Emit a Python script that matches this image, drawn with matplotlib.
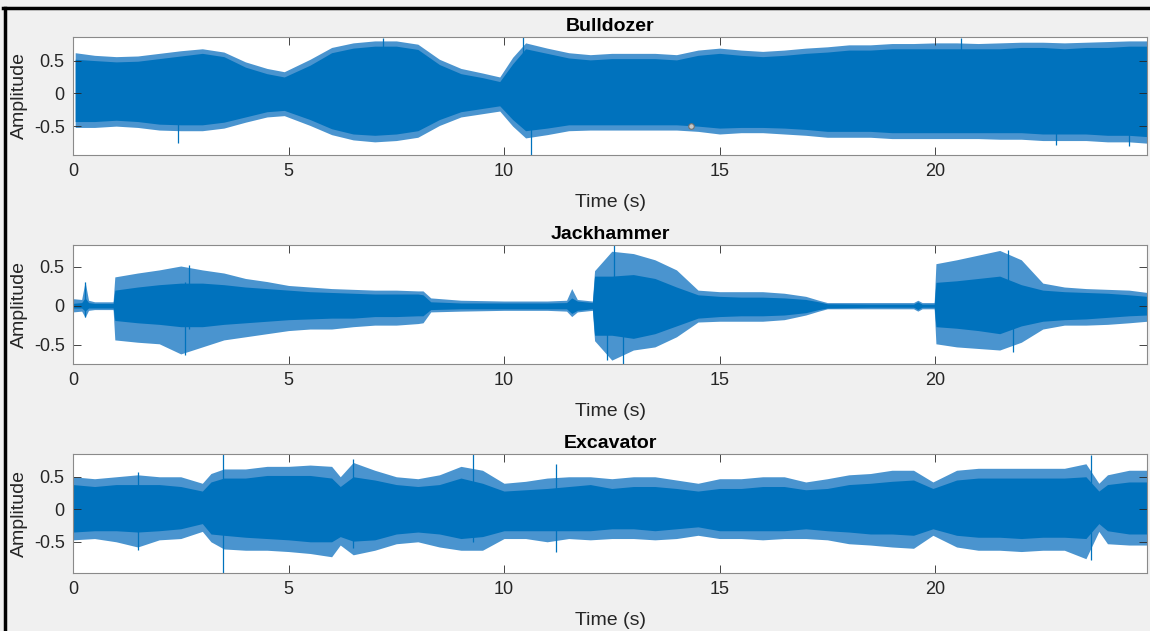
import matplotlib
matplotlib.use("Agg")
import matplotlib.pyplot as plt
from matplotlib.lines import Line2D

plt.rcParams['font.family'] = ['Liberation Sans', 'DejaVu Sans']

# ---- Bulldozer: envelope (body = dense part, peak = spike tips)
bd_t = [0.05, 0.5, 1, 1.5, 2, 2.5, 3, 3.5, 4, 4.5,
        4.9, 5.5, 6, 6.5, 7, 7.5, 8, 8.5, 9, 9.5,
        9.9, 10.2, 10.5, 11, 11.5, 12, 12.5, 13, 13.5, 14,
        14.5, 15, 15.5, 16, 16.5, 17, 17.5, 18, 18.5, 19,
        19.5, 20, 20.5, 21, 21.5, 22, 22.5, 23, 23.5, 24,
        24.5, 24.92]
bd_body_hi = [0.52, 0.50, 0.48, 0.49, 0.53, 0.57, 0.61, 0.56, 0.40, 0.30,
              0.25, 0.43, 0.62, 0.69, 0.72, 0.72, 0.67, 0.44, 0.30, 0.24,
              0.18, 0.45, 0.68, 0.61, 0.54, 0.51, 0.53, 0.53, 0.53, 0.51,
              0.58, 0.61, 0.58, 0.56, 0.58, 0.61, 0.63, 0.66, 0.66, 0.68,
              0.68, 0.68, 0.68, 0.68, 0.68, 0.70, 0.70, 0.68, 0.70, 0.70,
              0.72, 0.72]
bd_body_lo = [-0.43, -0.43, -0.41, -0.43, -0.47, -0.48, -0.48, -0.44, -0.36, -0.28,
              -0.26, -0.40, -0.54, -0.62, -0.64, -0.62, -0.57, -0.40, -0.28, -0.23,
              -0.19, -0.40, -0.57, -0.53, -0.48, -0.48, -0.48, -0.48, -0.48, -0.48,
              -0.50, -0.53, -0.52, -0.52, -0.53, -0.55, -0.58, -0.58, -0.58, -0.60,
              -0.60, -0.60, -0.60, -0.60, -0.60, -0.60, -0.62, -0.62, -0.62, -0.64,
              -0.64, -0.66]
bd_peak_hi = [0.62, 0.58, 0.56, 0.57, 0.61, 0.65, 0.68, 0.63, 0.48, 0.38,
              0.33, 0.52, 0.70, 0.77, 0.80, 0.80, 0.75, 0.52, 0.38, 0.31,
              0.25, 0.55, 0.77, 0.69, 0.62, 0.59, 0.61, 0.61, 0.61, 0.59,
              0.66, 0.69, 0.66, 0.64, 0.66, 0.69, 0.71, 0.74, 0.74, 0.76,
              0.76, 0.77, 0.77, 0.76, 0.77, 0.78, 0.78, 0.77, 0.78, 0.79,
              0.80, 0.80]
bd_peak_lo = [-0.52, -0.52, -0.50, -0.52, -0.56, -0.57, -0.57, -0.53, -0.44, -0.36,
              -0.34, -0.49, -0.63, -0.71, -0.74, -0.72, -0.67, -0.49, -0.36, -0.31,
              -0.27, -0.50, -0.68, -0.63, -0.57, -0.56, -0.56, -0.56, -0.56, -0.56,
              -0.58, -0.62, -0.60, -0.60, -0.62, -0.64, -0.67, -0.67, -0.67, -0.69,
              -0.69, -0.69, -0.69, -0.69, -0.70, -0.70, -0.72, -0.72, -0.72, -0.74,
              -0.74, -0.76]
bd_spike_t = [2.44, 7.2, 10.45, 10.62, 20.6, 22.8, 24.5]
bd_spike_lo = [-0.76, -0.5, -0.5, -0.94, -0.5, -0.79, -0.81]
bd_spike_hi = [0.5, 0.84, 0.86, 0.6, 0.85, 0.6, 0.6]

# ---- Jackhammer
jh_t = [0, 0.2, 0.28, 0.36, 0.5, 0.93, 0.97, 1.5, 2, 2.5,
        3, 3.5, 4, 4.5, 5, 5.5, 6, 6.5, 7, 7.5,
        8, 8.12, 8.3, 9, 10, 11, 11.45, 11.57, 11.7, 12.05,
        12.1, 12.5, 13, 13.5, 14, 14.5, 15, 15.5, 16, 16.5,
        17, 17.3, 17.5, 18.5, 19.5, 19.6, 19.7, 19.98, 20.02, 20.5,
        21, 21.5, 22, 22.5, 23, 23.5, 24, 24.5, 24.92]
jh_body_hi = [0.03, 0.04, 0.10, 0.04, 0.03, 0.03, 0.20, 0.24, 0.27, 0.29,
              0.29, 0.27, 0.24, 0.22, 0.20, 0.18, 0.17, 0.16, 0.15, 0.15,
              0.15, 0.14, 0.05, 0.035, 0.035, 0.035, 0.04, 0.10, 0.06, 0.04,
              0.38, 0.38, 0.40, 0.35, 0.24, 0.14, 0.12, 0.11, 0.11, 0.10,
              0.08, 0.05, 0.025, 0.02, 0.02, 0.05, 0.02, 0.02, 0.30, 0.32,
              0.35, 0.38, 0.27, 0.20, 0.18, 0.17, 0.16, 0.14, 0.12]
jh_body_lo = [-0.03, -0.03, -0.07, -0.03, -0.03, -0.03, -0.19, -0.22, -0.24, -0.27,
              -0.27, -0.24, -0.22, -0.20, -0.18, -0.17, -0.16, -0.16, -0.14, -0.14,
              -0.13, -0.13, -0.05, -0.04, -0.04, -0.04, -0.04, -0.10, -0.06, -0.04,
              -0.38, -0.38, -0.42, -0.36, -0.26, -0.16, -0.14, -0.13, -0.13, -0.12,
              -0.09, -0.05, -0.03, -0.02, -0.02, -0.05, -0.02, -0.02, -0.27, -0.29,
              -0.32, -0.36, -0.26, -0.20, -0.18, -0.17, -0.15, -0.13, -0.12]
jh_peak_hi = [0.09, 0.08, 0.31, 0.07, 0.05, 0.05, 0.37, 0.42, 0.46, 0.51,
              0.46, 0.42, 0.35, 0.31, 0.26, 0.24, 0.22, 0.21, 0.20, 0.20,
              0.19, 0.19, 0.10, 0.07, 0.06, 0.06, 0.07, 0.22, 0.08, 0.06,
              0.45, 0.70, 0.67, 0.59, 0.46, 0.20, 0.18, 0.18, 0.18, 0.16,
              0.12, 0.07, 0.04, 0.04, 0.04, 0.07, 0.04, 0.04, 0.54, 0.59,
              0.65, 0.71, 0.59, 0.29, 0.24, 0.22, 0.21, 0.20, 0.17]
jh_peak_lo = [-0.08, -0.07, -0.15, -0.06, -0.05, -0.05, -0.44, -0.47, -0.49, -0.62,
              -0.53, -0.44, -0.40, -0.36, -0.32, -0.30, -0.30, -0.27, -0.25, -0.25,
              -0.23, -0.22, -0.08, -0.07, -0.06, -0.06, -0.07, -0.14, -0.08, -0.06,
              -0.45, -0.70, -0.57, -0.53, -0.40, -0.21, -0.20, -0.20, -0.20, -0.18,
              -0.12, -0.07, -0.04, -0.04, -0.04, -0.07, -0.04, -0.04, -0.49, -0.53,
              -0.55, -0.57, -0.47, -0.30, -0.25, -0.25, -0.24, -0.22, -0.20]
jh_spike_t = [0.28, 2.6, 2.7, 12.4, 12.55, 12.75, 21.7, 21.8]
jh_spike_lo = [-0.15, -0.64, -0.3, -0.70, -0.3, -0.75, -0.3, -0.60]
jh_spike_hi = [0.31, 0.3, 0.52, 0.3, 0.78, 0.3, 0.72, 0.3]

# ---- Excavator
ex_t = [0, 0.5, 1, 1.5, 2, 2.5, 3.0, 3.2, 3.5, 4,
        4.5, 5, 5.5, 6, 6.2, 6.5, 7, 7.5, 8, 8.5,
        9, 9.5, 10, 10.5, 11, 11.5, 12, 12.5, 13, 13.5,
        14, 14.5, 15, 15.5, 16, 16.5, 17, 17.5, 18, 18.5,
        19, 19.5, 19.95, 20.5, 21, 21.5, 22, 22.5, 23, 23.5,
        23.8, 24, 24.5, 24.92]
ex_body_hi = [0.38, 0.35, 0.38, 0.38, 0.38, 0.35, 0.28, 0.42, 0.48, 0.48,
              0.52, 0.52, 0.52, 0.48, 0.35, 0.50, 0.45, 0.38, 0.35, 0.38,
              0.48, 0.40, 0.28, 0.30, 0.32, 0.35, 0.38, 0.32, 0.35, 0.35,
              0.32, 0.28, 0.32, 0.32, 0.35, 0.35, 0.30, 0.32, 0.38, 0.40,
              0.43, 0.45, 0.32, 0.45, 0.48, 0.48, 0.48, 0.48, 0.48, 0.50,
              0.28, 0.38, 0.42, 0.42]
ex_body_lo = [-0.35, -0.33, -0.33, -0.35, -0.33, -0.30, -0.22, -0.38, -0.40, -0.43,
              -0.45, -0.47, -0.50, -0.50, -0.42, -0.49, -0.47, -0.38, -0.35, -0.38,
              -0.45, -0.42, -0.33, -0.33, -0.33, -0.33, -0.33, -0.30, -0.30, -0.33,
              -0.30, -0.27, -0.33, -0.33, -0.33, -0.33, -0.30, -0.33, -0.35, -0.38,
              -0.38, -0.40, -0.30, -0.40, -0.43, -0.43, -0.45, -0.43, -0.43, -0.45,
              -0.22, -0.33, -0.38, -0.38]
ex_peak_hi = [0.50, 0.47, 0.50, 0.53, 0.50, 0.50, 0.40, 0.55, 0.62, 0.62,
              0.66, 0.66, 0.68, 0.66, 0.50, 0.72, 0.60, 0.50, 0.47, 0.53,
              0.66, 0.60, 0.40, 0.43, 0.48, 0.50, 0.50, 0.47, 0.50, 0.50,
              0.45, 0.40, 0.47, 0.47, 0.50, 0.50, 0.42, 0.47, 0.53, 0.55,
              0.60, 0.60, 0.42, 0.60, 0.63, 0.63, 0.63, 0.63, 0.63, 0.70,
              0.40, 0.53, 0.60, 0.60]
ex_peak_lo = [-0.47, -0.45, -0.50, -0.58, -0.47, -0.45, -0.34, -0.50, -0.61, -0.63,
              -0.63, -0.65, -0.68, -0.73, -0.55, -0.70, -0.63, -0.53, -0.50, -0.58,
              -0.63, -0.63, -0.45, -0.45, -0.50, -0.45, -0.47, -0.45, -0.45, -0.47,
              -0.45, -0.40, -0.45, -0.45, -0.47, -0.45, -0.45, -0.47, -0.53, -0.55,
              -0.58, -0.60, -0.40, -0.58, -0.63, -0.63, -0.65, -0.63, -0.63, -0.76,
              -0.34, -0.53, -0.55, -0.55]
ex_spike_t = [1.5, 3.49, 6.5, 9.28, 11.2, 23.62]
ex_spike_lo = [-0.62, -0.98, -0.60, -0.50, -0.65, -0.78]
ex_spike_hi = [0.58, 0.85, 0.78, 0.85, 0.70, 0.83]

titles = ["Bulldozer", "Jackhammer", "Excavator"]
x_ticks = [0, 5, 10, 15, 20]
y_ticks = [-0.5, 0, 0.5]

BLUE = '#0072BD'
LIGHT = '#4a94cf'
DARK = '#262626'

fig = plt.figure(figsize=(11.5, 6.31), dpi=100)
fig.patch.set_facecolor('#f0f0f0')

# axes rectangles in figure fractions (left, bottom, width, height)
rects = [(0.0635, 0.7544, 0.934, 0.187),
         (0.0635, 0.4231, 0.934, 0.1886),
         (0.0635, 0.0919, 0.934, 0.1886)]
ylims = [(-0.94, 0.86), (-0.75, 0.78), (-0.98, 0.85)]

panels = [
    (bd_t, bd_body_lo, bd_body_hi, bd_peak_lo, bd_peak_hi, bd_spike_t, bd_spike_lo, bd_spike_hi),
    (jh_t, jh_body_lo, jh_body_hi, jh_peak_lo, jh_peak_hi, jh_spike_t, jh_spike_lo, jh_spike_hi),
    (ex_t, ex_body_lo, ex_body_hi, ex_peak_lo, ex_peak_hi, ex_spike_t, ex_spike_lo, ex_spike_hi),
]

for i, (t, blo, bhi, plo, phi, st, slo, shi) in enumerate(panels):
    ax = fig.add_axes(rects[i])
    ax.set_facecolor('white')
    ax.fill_between(t, plo, phi, color=LIGHT, lw=0)
    ax.fill_between(t, blo, bhi, color=BLUE, lw=0)
    ax.vlines(st, slo, shi, color=BLUE, lw=0.9)
    ax.set_xlim(0, 24.92)
    ax.set_ylim(*ylims[i])
    ax.set_xticks(x_ticks)
    ax.set_xticklabels([str(v) for v in x_ticks])
    ax.set_yticks(y_ticks)
    ax.set_yticklabels(['-0.5', '0', '0.5'])
    ax.tick_params(direction='in', top=True, right=True, length=6, width=0.6,
                   color=DARK, labelcolor=DARK, labelsize=13, pad=6)
    for s in ax.spines.values():
        s.set_color('#8a8a8a')
        s.set_linewidth(0.8)
    ax.set_title(titles[i], fontsize=14, fontweight='bold', color='black', pad=4)
    ax.set_xlabel('Time (s)', fontsize=14, color=DARK)
    ax.set_ylabel('Amplitude', fontsize=14, color=DARK)
    ax.xaxis.set_label_coords(0.5, -0.33)
    ax.yaxis.set_label_coords(-0.042, 0.5)
    if i == 0:
        # the small data-cursor circle left in the screenshot
        ax.plot([14.34], [-0.50], 'o', ms=4, mfc='#c8c8c8', mec='#707070', mew=0.8)

# black frame lines of the screenshot
fig.add_artist(Line2D([0.003, 1.0], [0.987, 0.987], transform=fig.transFigure, color='black', lw=2.5))
fig.add_artist(Line2D([0.0043, 0.0043], [0.0, 0.988], transform=fig.transFigure, color='black', lw=2.5))

fig.savefig('out.png', dpi=100, facecolor=fig.get_facecolor())
